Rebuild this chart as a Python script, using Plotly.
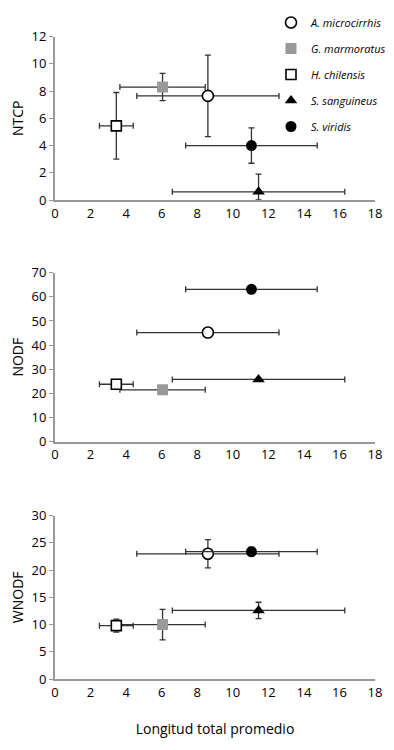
import plotly.graph_objects as go

species = ["A. microcirrhis", "G. marmoratus", "H. chilensis", "S. sanguineus", "S. viridis"]

# Longitud total promedio (mean) and its error (same in all panels)
length_mean = [8.6, 6.05, 3.45, 11.45, 11.05]
length_err = [4.0, 2.4, 0.95, 4.85, 3.7]

# NTCP
ntcp = [7.65, 8.3, 5.45, 0.6, 4.0]
ntcp_err_plus = [3.0, 1.0, 2.45, 1.3, 1.3]
ntcp_err_minus = [3.0, 1.0, 2.45, 0.6, 1.3]

# NODF (no vertical error shown)
nodf = [45.2, 21.5, 23.8, 25.8, 63.1]

# WNODF
wnodf = [23.0, 10.0, 9.8, 12.6, 23.4]
wnodf_err = [2.6, 2.8, 1.2, 1.5, 0.8]

x_ticks = list(range(0, 19, 2))
panel_names = ["NTCP", "NODF", "WNODF"]
y_ranges = [[0, 12], [0, 70], [0, 30]]
y_dtick = [2, 10, 5]

styles = [
    dict(symbol="circle", color="white", size=11, line=dict(color="black", width=1.6)),
    dict(symbol="square", color="#999999", size=11, line=dict(color="#999999", width=0)),
    dict(symbol="square", color="white", size=10, line=dict(color="black", width=1.6)),
    dict(symbol="triangle-up", color="black", size=11, line=dict(color="black", width=0)),
    dict(symbol="circle", color="black", size=11, line=dict(color="black", width=0)),
]

ERR_COLOR = "#333333"
fig = go.Figure()

panels = [
    (ntcp, ntcp_err_plus, ntcp_err_minus),
    (nodf, None, None),
    (wnodf, wnodf_err, wnodf_err),
]

for p, (yv, ep, em) in enumerate(panels):
    xa = "x" if p == 0 else f"x{p+1}"
    ya = "y" if p == 0 else f"y{p+1}"
    for i, sp in enumerate(species):
        err_y = dict(visible=False)
        if ep is not None:
            err_y = dict(type="data", array=[ep[i]], arrayminus=[em[i]], symmetric=False,
                         color=ERR_COLOR, thickness=1.3, width=3)
        fig.add_trace(go.Scatter(
            x=[length_mean[i]], y=[yv[i]], mode="markers",
            marker=styles[i],
            error_x=dict(type="data", array=[length_err[i]], color=ERR_COLOR, thickness=1.3, width=3),
            error_y=err_y,
            name=f"<i>{sp}</i>", legendgroup=sp, showlegend=(p == 0),
            xaxis=xa, yaxis=ya, cliponaxis=False,
        ))

# page body has an 8px margin, so the figure is placed at (8, 8)
OFF = 8
W, H = 394 - OFF, 750 - OFF


def px_x(v):
    return (v - OFF) / W


def px_y(v):
    return (H - (v - OFF)) / H


x0, x1 = px_x(55), px_x(375)
domains = [
    [px_y(200), px_y(36.7)],
    [px_y(441.7), px_y(272.7)],
    [px_y(679), px_y(515.7)],
]

font = "Open Sans, Noto Sans, sans-serif"
layout = dict(
    width=W, height=H,
    margin=dict(l=0, r=0, t=0, b=0),
    paper_bgcolor="white", plot_bgcolor="white",
    font=dict(family=font, size=13, color="black"),
    showlegend=True,
    legend=dict(x=px_x(271), y=1, xanchor="left", yanchor="top",
                font=dict(size=11, family=font), tracegroupgap=7,
                bgcolor="rgba(0,0,0,0)", traceorder="grouped"),
)

for p in range(3):
    xk = "xaxis" if p == 0 else f"xaxis{p+1}"
    yk = "yaxis" if p == 0 else f"yaxis{p+1}"
    ya = "y" if p == 0 else f"y{p+1}"
    xa = "x" if p == 0 else f"x{p+1}"
    layout[xk] = dict(domain=[x0, x1], anchor=ya, range=[0, 18], tickvals=x_ticks,
                      showgrid=False, zeroline=False, showline=True, linecolor="#999999",
                      linewidth=2, ticks="", tickfont=dict(size=13), automargin=False)
    layout[yk] = dict(domain=domains[p], anchor=xa, range=y_ranges[p], dtick=y_dtick[p],
                      showgrid=False, zeroline=False, showline=True, linecolor="#999999",
                      linewidth=2, ticks="outside", ticklen=4, tickcolor="#999999",
                      tickfont=dict(size=13), automargin=False,
                      title=dict(text=panel_names[p], font=dict(size=14), standoff=8))

layout["xaxis3"]["title"] = dict(text="Longitud total promedio", font=dict(size=14), standoff=25)

fig.update_layout(**layout)
fig.write_html("out.html")
